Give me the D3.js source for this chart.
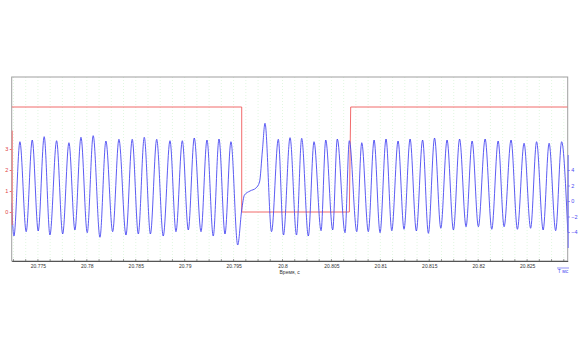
<!DOCTYPE html>
<html>
<head>
<meta charset="utf-8">
<script src="https://cdn.jsdelivr.net/npm/d3@7"></script>
<style>
	body { margin: 0; background: #ffffff; }
	svg { display: block; font-family: "Liberation Sans", Arial, sans-serif; }
</style>
</head>
<body>
<div id="chart"></div>
<script>

// time axis (s)
var xTicks = [20.775, 20.78, 20.785, 20.79, 20.795, 20.8, 20.805, 20.81, 20.815, 20.82, 20.825];
var xTickLabels = ["20.775", "20.78", "20.785", "20.79", "20.795", "20.8", "20.805", "20.81", "20.815", "20.82", "20.825"];
var xDomain = [20.77232, 20.82915];

// left (red) axis
var leftTicks = [0, 1, 2, 3];
// right (blue) axis
var rightTicks = [-4, -2, 0, 2, 4];

// red step signal: time, level
var redTime = [20.77232, 20.79583, 20.79583, 20.80683, 20.80697, 20.82915];
var redValue = [5, 5, 0, 0, 5, 5];

// blue signal: peaks / troughs
var blueTime = [
	20.77231, 20.77255, 20.77316, 20.77380, 20.77442, 20.77503, 20.77564, 20.77623, 20.77691, 20.77753,
	20.77817, 20.77878, 20.77940, 20.78004, 20.78065, 20.78134, 20.78195, 20.78264, 20.78328, 20.78400,
	20.78464, 20.78526, 20.78587, 20.78650, 20.78714, 20.78781, 20.78850, 20.78911, 20.78976, 20.79037,
	20.79098, 20.79167, 20.79228, 20.79292, 20.79351, 20.79412, 20.79473, 20.79542,
	20.79583, 20.79611, 20.79668, 20.79729, 20.79765, 20.79795,
	20.79821, 20.79888, 20.79957, 20.80010, 20.80077, 20.80143, 20.80196, 20.80264, 20.80322, 20.80394,
	20.80442, 20.80513, 20.80560, 20.80639, 20.80683, 20.80759, 20.80810, 20.80877, 20.80936, 20.80997,
	20.81058, 20.81117, 20.81181, 20.81242, 20.81304, 20.81368, 20.81432, 20.81491, 20.81554, 20.81618,
	20.81682, 20.81747, 20.81810, 20.81876, 20.81938, 20.82002, 20.82071, 20.82139, 20.82204, 20.82265,
	20.82336, 20.82401, 20.82469, 20.82536, 20.82597, 20.82664, 20.82725, 20.82792, 20.82853, 20.82916
];
var blueValue = [
	-0.26, -4.52, 7.65, -3.96, 7.87, -3.87, 8.30, -4.39, 7.78, -4.26,
	7.52, -3.74, 8.22, -4.09, 8.43, -4.68, 7.74, -3.96, 7.96, -4.39,
	7.96, -4.26, 8.22, -4.26, 7.96, -4.52, 7.78, -3.96, 7.78, -3.74,
	8.13, -3.96, 7.87, -4.52, 8.00, -4.26, 7.65, -5.68,
	-1.16, 0.77, 1.29, 1.68, 2.45, 6.58,
	10.03, -3.96, 7.96, -4.39, 8.17, -4.39, 8.09, -4.52, 7.65, -3.83,
	7.87, -3.74, 8.00, -4.09, 7.78, -3.96, 7.52, -3.96, 7.87, -4.09,
	8.00, -3.83, 7.74, -3.65, 8.00, -3.87, 7.87, -4.17, 8.13, -3.52,
	7.87, -3.74, 8.00, -3.32, 7.74, -3.32, 8.00, -3.65, 7.74, -3.32,
	7.87, -3.65, 7.45, -3.52, 7.65, -3.74, 7.45, -3.83, 7.65, -4.00
];

chart('#chart');

function chart(id) {
	var width = 578;
	var height = 350;
	var plot = { left: 11.7, right: 567.7, top: 77, bottom: 261 };

	var svg = d3.select(id).append("svg")
		.attr("width", width)
		.attr("height", height);

	var x = d3.scaleLinear().domain(xDomain).range([plot.left, plot.right]);
	var yLeft = d3.scaleLinear().domain([0, 5]).range([212, 107]);
	var yRight = d3.scaleLinear().domain([-4, 4]).range([232, 170]);

	svg.append("defs").append("clipPath").attr("id", "plot-clip")
		.append("rect")
		.attr("x", plot.left).attr("y", plot.top)
		.attr("width", plot.right - plot.left).attr("height", plot.bottom - plot.top);

	// vertical grid (minor step 0.00125 s)
	var gridTicks = d3.range(-2, 44).map(function(i) { return 20.775 + i * 0.00125; })
		.filter(function(t) { return t > xDomain[0] && t < xDomain[1]; });

	svg.append("g").selectAll("line")
		.data(gridTicks)
		.join("line")
		.attr("x1", function(d) { return x(d); }).attr("x2", function(d) { return x(d); })
		.attr("y1", plot.top).attr("y2", plot.bottom)
		.attr("stroke", "#d4f4d4")
		.attr("stroke-width", 0.7)
		.attr("stroke-dasharray", "1,2");

	// frame
	svg.append("rect")
		.attr("x", plot.left).attr("y", plot.top)
		.attr("width", plot.right - plot.left).attr("height", plot.bottom - plot.top)
		.attr("fill", "none")
		.attr("stroke", "#a0a0a0")
		.attr("stroke-width", 1);

	var g = svg.append("g").attr("clip-path", "url(#plot-clip)");

	// red step signal
	var redData = redTime.map(function(t, i) { return [t, redValue[i]]; });
	g.append("path")
		.datum(redData)
		.attr("fill", "none")
		.attr("stroke", "#ef5a5a")
		.attr("stroke-width", 0.9)
		.attr("d", d3.line()
			.x(function(d) { return x(d[0]); })
			.y(function(d) { return yLeft(d[1]); }));

	// blue signal
	var blueData = blueTime.map(function(t, i) { return [t, blueValue[i]]; });
	g.append("path")
		.datum(blueData)
		.attr("fill", "none")
		.attr("stroke", "#4a4af2")
		.attr("stroke-width", 0.9)
		.attr("d", d3.line()
			.curve(d3.curveMonotoneX)
			.x(function(d) { return x(d[0]); })
			.y(function(d) { return yRight(d[1]); }));

	// bottom axis
	var xAxis = svg.append("g")
		.attr("transform", "translate(0," + plot.bottom + ")")
		.call(d3.axisBottom(x)
			.tickValues(xTicks)
			.tickFormat(function(d, i) { return xTickLabels[i]; })
			.tickSizeInner(0)
			.tickSizeOuter(0)
			.tickPadding(3));
	xAxis.select(".domain").attr("stroke", "#555555");
	xAxis.selectAll("text").attr("fill", "#333333").style("font-size", "5px").attr("font-family", null);

	// minor ticks on time axis
	svg.append("g").selectAll("line")
		.data(gridTicks)
		.join("line")
		.attr("x1", function(d) { return x(d); }).attr("x2", function(d) { return x(d); })
		.attr("y1", plot.bottom - 2).attr("y2", plot.bottom)
		.attr("stroke", "#555555")
		.attr("stroke-width", 0.6);

	svg.append("text")
		.attr("x", (plot.left + plot.right) / 2).attr("y", 274)
		.attr("text-anchor", "middle")
		.attr("fill", "#333333")
		.style("font-size", "5px")
		.text("Время, с");

	// left axis (red)
	var leftAxis = svg.append("g")
		.attr("transform", "translate(" + plot.left + ",0)")
		.call(d3.axisLeft(yLeft.copy().domain([-0.6, 3.9]).range([yLeft(-0.6), yLeft(3.9)]))
			.tickValues(leftTicks)
			.tickFormat(d3.format("d"))
			.tickSizeInner(2)
			.tickSizeOuter(0)
			.tickPadding(1.5));
	leftAxis.select(".domain").attr("stroke", "#f07070");
	leftAxis.selectAll(".tick line").attr("stroke", "#f07070");
	leftAxis.selectAll("text").attr("fill", "#e04040").style("font-size", "5.5px").attr("font-family", null);

	// right axis (blue)
	var rightAxis = svg.append("g")
		.attr("transform", "translate(" + plot.right + ",0)")
		.call(d3.axisRight(yRight.copy().domain([-6, 6]).range([yRight(-6), yRight(6)]))
			.tickValues(rightTicks)
			.tickFormat(d3.format("d"))
			.tickSizeInner(2)
			.tickSizeOuter(0)
			.tickPadding(1.5));
	rightAxis.select(".domain").attr("stroke", "#7070f5");
	rightAxis.selectAll(".tick line").attr("stroke", "#7070f5");
	rightAxis.selectAll("text").attr("fill", "#4a4af2").style("font-size", "5.5px").attr("font-family", null);

	// unit label, bottom right
	var unit = svg.append("g").attr("transform", "translate(563,273)");
	unit.append("line")
		.attr("x1", -6).attr("x2", 6).attr("y1", -5).attr("y2", -5)
		.attr("stroke", "#4a4af2").attr("stroke-width", 0.6);
	unit.append("text")
		.attr("text-anchor", "middle")
		.attr("fill", "#4a4af2")
		.style("font-size", "5px")
		.text("T мс");
}

</script>
</body>
</html>
